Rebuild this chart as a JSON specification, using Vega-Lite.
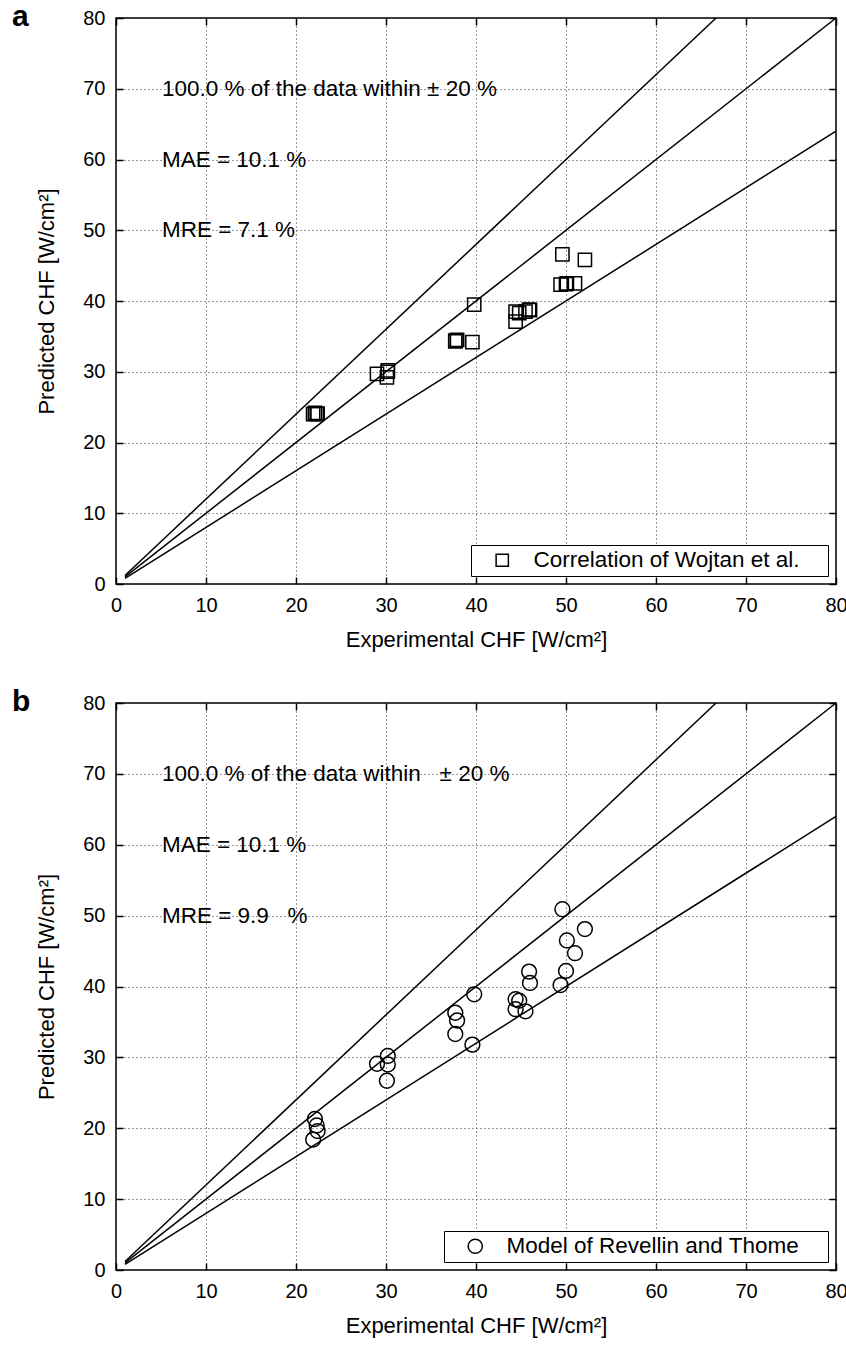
{
  "$schema": "https://vega.github.io/schema/vega-lite/v6.json",
  "background": "white",
  "padding": {"left": 11, "top": 1, "right": 5, "bottom": 5},
  "spacing": 35,
  "config": {
    "font": "Liberation Sans",
    "view": {"stroke": "black", "strokeWidth": 1.5},
    "legend": {"labelFont": "Liberation Sans"}
  },
  "datasets": {
    "lines": [
      {"x": 1, "y": 1, "g": "one"}, {"x": 80, "y": 80, "g": "one"},
      {"x": 1, "y": 1.2, "g": "hi"}, {"x": 66.67, "y": 80, "g": "hi"},
      {"x": 1, "y": 0.8, "g": "lo"}, {"x": 80, "y": 64, "g": "lo"}
    ],
    "wojtan": [
      {"exp": 49.6, "pred": 46.6}, {"exp": 52.1, "pred": 45.8}, {"exp": 50.1, "pred": 42.5},
      {"exp": 51.0, "pred": 42.5}, {"exp": 50.0, "pred": 42.4}, {"exp": 49.4, "pred": 42.3},
      {"exp": 45.9, "pred": 38.8}, {"exp": 46.0, "pred": 38.7}, {"exp": 39.8, "pred": 39.5},
      {"exp": 44.4, "pred": 38.5}, {"exp": 44.8, "pred": 38.3}, {"exp": 44.4, "pred": 37.1},
      {"exp": 45.5, "pred": 38.5}, {"exp": 37.7, "pred": 34.4}, {"exp": 37.9, "pred": 34.5},
      {"exp": 37.7, "pred": 34.3}, {"exp": 39.6, "pred": 34.2}, {"exp": 29.0, "pred": 29.7},
      {"exp": 30.2, "pred": 30.2}, {"exp": 30.2, "pred": 30.0}, {"exp": 30.1, "pred": 29.2},
      {"exp": 22.1, "pred": 24.2}, {"exp": 22.3, "pred": 24.0}, {"exp": 22.4, "pred": 24.1},
      {"exp": 21.9, "pred": 24.0}
    ],
    "revellin": [
      {"exp": 49.6, "pred": 50.9}, {"exp": 52.1, "pred": 48.1}, {"exp": 50.1, "pred": 46.5},
      {"exp": 51.0, "pred": 44.7}, {"exp": 50.0, "pred": 42.2}, {"exp": 49.4, "pred": 40.2},
      {"exp": 45.9, "pred": 42.1}, {"exp": 46.0, "pred": 40.5}, {"exp": 39.8, "pred": 38.9},
      {"exp": 44.4, "pred": 38.2}, {"exp": 44.8, "pred": 38.0}, {"exp": 44.4, "pred": 36.8},
      {"exp": 45.5, "pred": 36.5}, {"exp": 37.7, "pred": 36.3}, {"exp": 37.9, "pred": 35.2},
      {"exp": 37.7, "pred": 33.3}, {"exp": 39.6, "pred": 31.8}, {"exp": 29.0, "pred": 29.1},
      {"exp": 30.2, "pred": 30.2}, {"exp": 30.2, "pred": 29.0}, {"exp": 30.1, "pred": 26.7},
      {"exp": 22.1, "pred": 21.3}, {"exp": 22.3, "pred": 20.4}, {"exp": 22.4, "pred": 19.6},
      {"exp": 21.9, "pred": 18.4}
    ],
    "notesA": [
      {"x": 5.1, "y": 70, "label": "100.0 % of the data within ± 20 %"},
      {"x": 5.1, "y": 60, "label": "MAE = 10.1 %"},
      {"x": 5.1, "y": 50, "label": "MRE = 7.1 %"}
    ],
    "notesB": [
      {"x": 5.1, "y": 70, "label": "100.0 % of the data within\u00a0\u00a0\u00a0± 20 %"},
      {"x": 5.1, "y": 60, "label": "MAE = 10.1 %"},
      {"x": 5.1, "y": 50, "label": "MRE = 9.9\u00a0\u00a0\u00a0%"}
    ]
  },
  "vconcat": [
    {
      "width": 720, "height": 566,
      "title": {"text": "a", "anchor": "start", "frame": "group", "fontSize": 30, "fontWeight": "bold", "font": "Liberation Sans", "color": "black", "dx": -104, "offset": -24},
      "layer": [
        {
          "data": {"name": "lines"},
          "mark": {"type": "line", "color": "black", "strokeWidth": 1.5},
          "encoding": {
            "x": {"field": "x", "type": "quantitative", "scale": {"domain": [0, 80], "nice": false},
              "axis": {"orient": "bottom", "values": [0,10,20,30,40,50,60,70,80], "title": "Experimental CHF [W/cm²]", "grid": true, "gridDash": [1, 3], "gridColor": "#333", "gridWidth": 1, "domain": false, "tickSize": -7, "tickColor": "black", "tickWidth": 1.5, "labelPadding": 18, "labelFontSize": 20, "labelColor": "black", "labelFlush": false, "titleFontSize": 22, "titleFontWeight": "normal", "titleColor": "black", "titlePadding": 14}},
            "y": {"field": "y", "type": "quantitative", "scale": {"domain": [0, 80], "nice": false},
              "axis": {"orient": "left", "values": [0,10,20,30,40,50,60,70,80], "title": "Predicted CHF [W/cm²]", "grid": true, "gridDash": [1, 3], "gridColor": "#333", "gridWidth": 1, "domain": false, "tickSize": -7, "tickColor": "black", "tickWidth": 1.5, "labelPadding": 18, "labelFontSize": 20, "labelColor": "black", "labelFlush": false, "titleFontSize": 22, "titleFontWeight": "normal", "titleColor": "black", "titlePadding": 24}},
            "detail": {"field": "g", "type": "nominal"}
          }
        },
        {
          "data": {"name": "wojtan"},
          "mark": {"type": "point", "filled": false, "stroke": "black", "strokeWidth": 1.5, "size": 175, "opacity": 1},
          "encoding": {
            "x": {"field": "exp", "type": "quantitative", "axis": null},
            "y": {"field": "pred", "type": "quantitative", "axis": null},
            "shape": {"datum": "Correlation of Wojtan et al.", "type": "nominal", "scale": {"range": ["square"]},
              "legend": {"title": "\u00a0", "titleOrient": "right", "titlePadding": 25, "titleFontSize": 4, "orient": "bottom-right", "offset": 8, "strokeColor": "black", "fillColor": "white", "padding": 4, "labelFontSize": 22.5, "labelColor": "black", "labelLimit": 0, "symbolSize": 150, "symbolStrokeWidth": 1.5, "symbolStrokeColor": "black", "symbolFillColor": "transparent", "symbolOffset": 16, "labelOffset": 20}}
          }
        },
        {
          "data": {"name": "notesA"},
          "mark": {"type": "text", "align": "left", "baseline": "middle", "fontSize": 22.5, "color": "black"},
          "encoding": {
            "x": {"field": "x", "type": "quantitative", "axis": {"orient": "top", "values": [0,10,20,30,40,50,60,70,80], "labels": false, "title": null, "grid": false, "domain": false, "tickSize": -7, "tickColor": "black", "tickWidth": 1.5}},
            "y": {"field": "y", "type": "quantitative", "axis": {"orient": "right", "values": [0,10,20,30,40,50,60,70,80], "labels": false, "title": null, "grid": false, "domain": false, "tickSize": -7, "tickColor": "black", "tickWidth": 1.5}},
            "text": {"field": "label", "type": "nominal"}
          }
        }
      ],
      "resolve": {"axis": {"x": "independent", "y": "independent"}}
    },
    {
      "width": 720, "height": 567,
      "title": {"text": "b", "anchor": "start", "frame": "group", "fontSize": 30, "fontWeight": "bold", "font": "Liberation Sans", "color": "black", "dx": -104, "offset": -24},
      "layer": [
        {
          "data": {"name": "lines"},
          "mark": {"type": "line", "color": "black", "strokeWidth": 1.5},
          "encoding": {
            "x": {"field": "x", "type": "quantitative", "scale": {"domain": [0, 80], "nice": false},
              "axis": {"orient": "bottom", "values": [0,10,20,30,40,50,60,70,80], "title": "Experimental CHF [W/cm²]", "grid": true, "gridDash": [1, 3], "gridColor": "#333", "gridWidth": 1, "domain": false, "tickSize": -7, "tickColor": "black", "tickWidth": 1.5, "labelPadding": 18, "labelFontSize": 20, "labelColor": "black", "labelFlush": false, "titleFontSize": 22, "titleFontWeight": "normal", "titleColor": "black", "titlePadding": 14}},
            "y": {"field": "y", "type": "quantitative", "scale": {"domain": [0, 80], "nice": false},
              "axis": {"orient": "left", "values": [0,10,20,30,40,50,60,70,80], "title": "Predicted CHF [W/cm²]", "grid": true, "gridDash": [1, 3], "gridColor": "#333", "gridWidth": 1, "domain": false, "tickSize": -7, "tickColor": "black", "tickWidth": 1.5, "labelPadding": 18, "labelFontSize": 20, "labelColor": "black", "labelFlush": false, "titleFontSize": 22, "titleFontWeight": "normal", "titleColor": "black", "titlePadding": 24}},
            "detail": {"field": "g", "type": "nominal"}
          }
        },
        {
          "data": {"name": "revellin"},
          "mark": {"type": "point", "filled": false, "stroke": "black", "strokeWidth": 1.5, "size": 220, "opacity": 1},
          "encoding": {
            "x": {"field": "exp", "type": "quantitative", "axis": null},
            "y": {"field": "pred", "type": "quantitative", "axis": null},
            "shape": {"datum": "Model of Revellin and Thome", "type": "nominal", "scale": {"range": ["circle"]},
              "legend": {"title": "\u00a0", "titleOrient": "right", "titlePadding": 25, "titleFontSize": 4, "orient": "bottom-right", "offset": 8, "strokeColor": "black", "fillColor": "white", "padding": 4, "labelFontSize": 22.5, "labelColor": "black", "labelLimit": 0, "symbolSize": 200, "symbolStrokeWidth": 1.5, "symbolStrokeColor": "black", "symbolFillColor": "transparent", "symbolOffset": 16, "labelOffset": 20}}
          }
        },
        {
          "data": {"name": "notesB"},
          "mark": {"type": "text", "align": "left", "baseline": "middle", "fontSize": 22.5, "color": "black"},
          "encoding": {
            "x": {"field": "x", "type": "quantitative", "axis": {"orient": "top", "values": [0,10,20,30,40,50,60,70,80], "labels": false, "title": null, "grid": false, "domain": false, "tickSize": -7, "tickColor": "black", "tickWidth": 1.5}},
            "y": {"field": "y", "type": "quantitative", "axis": {"orient": "right", "values": [0,10,20,30,40,50,60,70,80], "labels": false, "title": null, "grid": false, "domain": false, "tickSize": -7, "tickColor": "black", "tickWidth": 1.5}},
            "text": {"field": "label", "type": "nominal"}
          }
        }
      ],
      "resolve": {"axis": {"x": "independent", "y": "independent"}}
    }
  ],
  "resolve": {"scale": {"shape": "independent"}, "legend": {"shape": "independent"}}
}
